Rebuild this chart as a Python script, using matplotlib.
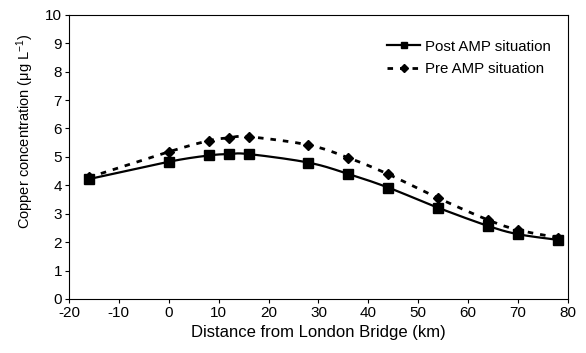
import numpy as np
import matplotlib
matplotlib.use('Agg')
import matplotlib.pyplot as plt

plt.rcParams['font.family'] = ['Liberation Sans', 'DejaVu Sans']
plt.rcParams['axes.unicode_minus'] = False
plt.rcParams['mathtext.default'] = 'regular'

# Dữ liệu
distance = [-16, 0, 8, 12, 16, 28, 36, 44, 54, 64, 70, 78]
post_amp = [4.22, 4.83, 5.05, 5.10, 5.10, 4.80, 4.40, 3.92, 3.21, 2.57, 2.28, 2.08]
pre_amp = [4.28, 5.18, 5.57, 5.67, 5.71, 5.42, 4.97, 4.39, 3.55, 2.78, 2.43, 2.16]


def smooth(x, y, n=20):
    # đường cong Catmull-Rom giống kiểu "smoothed line" của Excel
    x = np.asarray(x, float)
    y = np.asarray(y, float)
    px = np.concatenate([[x[0]], x, [x[-1]]])
    py = np.concatenate([[y[0]], y, [y[-1]]])
    xs, ys = [], []
    t = np.linspace(0, 1, n)
    for i in range(1, len(px) - 2):
        p0, p1, p2, p3 = [np.array([px[j], py[j]]) for j in range(i - 1, i + 3)]
        c1 = p1 + (p2 - p0) / 6
        c2 = p2 - (p3 - p1) / 6
        b = ((1 - t) ** 3)[:, None] * p1 + (3 * (1 - t) ** 2 * t)[:, None] * c1 \
            + (3 * (1 - t) * t ** 2)[:, None] * c2 + (t ** 3)[:, None] * p2
        xs.extend(b[:, 0])
        ys.extend(b[:, 1])
    return xs, ys


fig = plt.figure(figsize=(5.86, 3.53), dpi=100)
ax = fig.add_axes([0.1177, 0.153, 0.8515, 0.805])

sx, sy = smooth(distance, pre_amp)
ax.plot(sx, sy, color='black', lw=2, ls=(0, (2, 2.5)))
ax.plot(distance, pre_amp, ls='none', marker='D', ms=5, color='black')
sx, sy = smooth(distance, post_amp)
ax.plot(sx, sy, color='black', lw=1.6)
ax.plot(distance, post_amp, ls='none', marker='s', ms=6.5, color='black')

h1, = ax.plot([], [], color='black', lw=1.6, marker='s', ms=5, label='Post AMP situation')
h2, = ax.plot([], [], color='black', lw=2, ls=(0, (2, 2.5)), marker='D', ms=4, label='Pre AMP situation')
ax.legend(handles=[h1, h2], loc='upper left', bbox_to_anchor=(0.611, 0.96), frameon=False,
          fontsize=10.8, handlelength=2.2, handletextpad=0.3, labelspacing=0.55)

ax.set_xlim(-20, 80)
ax.set_ylim(0, 10)
ax.set_xticks(np.arange(-20, 81, 10))
ax.set_yticks(np.arange(0, 11, 1))
ax.tick_params(direction='out', length=3, labelsize=11, width=0.8, pad=2)
for s in ax.spines.values():
    s.set_linewidth(0.8)
ax.set_xlabel('Distance from London Bridge (km)', fontsize=12)
ax.xaxis.set_label_coords(0.5, -0.09)
ax.set_ylabel('Copper concentration (μg L$^{-1}$)', fontsize=10.5)
ax.yaxis.set_label_coords(-0.066, 0.59)

fig.savefig('out.png', dpi=100)
